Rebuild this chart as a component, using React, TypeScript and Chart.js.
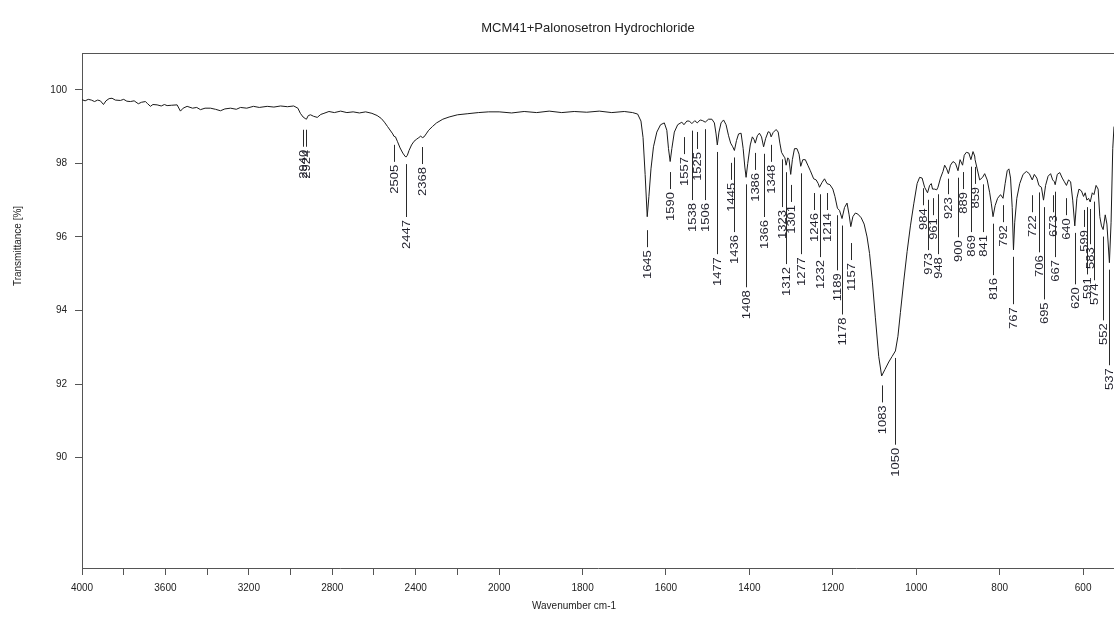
import { useEffect, useRef } from 'react';
import { Chart, LinearScale, registerables } from 'chart.js';

// ---------------- data ----------------
const chartTitle = 'MCM41+Palonosetron Hydrochloride';
const xAxisTitle = 'Wavenumber cm-1';
const yAxisTitle = 'Transmittance [%]';

const wavenumbers = [
  4000, 3985, 3970, 3955, 3940, 3925, 3912, 3897, 3885, 3870, 3856, 3840, 3816, 3800, 3785, 3768, 3750, 3730, 3715, 3696,
  3685, 3672, 3660, 3640, 3620, 3605, 3592, 3570, 3544, 3528, 3515, 3496, 3470, 3450, 3432, 3410, 3384, 3360, 3336, 3315,
  3288, 3260, 3240, 3210, 3178, 3150, 3112, 3080, 3048, 3015, 2985, 2965, 2953, 2940, 2930, 2924, 2915, 2904, 2890, 2872,
  2855, 2840, 2816, 2790, 2760, 2730, 2700, 2670, 2640, 2610, 2585, 2565, 2550, 2535, 2520, 2510, 2505, 2497, 2488, 2475,
  2462, 2452, 2447, 2440, 2432, 2420, 2408, 2395, 2385, 2376, 2368, 2360, 2350, 2338, 2320, 2300, 2270, 2240, 2200, 2150,
  2100, 2050, 2000, 1970, 1940, 1910, 1880, 1850, 1820, 1790, 1760, 1730, 1700, 1680, 1668, 1660, 1655, 1650, 1645, 1641,
  1636, 1630, 1622, 1613, 1604, 1598, 1594, 1590, 1586, 1580, 1572, 1562, 1557, 1550, 1544, 1538, 1531, 1525, 1518, 1512,
  1506, 1498, 1490, 1484, 1480, 1477, 1473, 1468, 1462, 1456, 1450, 1445, 1440, 1436, 1431, 1426, 1420, 1415, 1411, 1408,
  1404, 1398, 1393, 1389, 1386, 1381, 1376, 1371, 1366, 1361, 1355, 1351, 1348, 1343, 1336, 1331, 1327, 1323, 1318, 1315,
  1312, 1308, 1305, 1301, 1297, 1292, 1286, 1281, 1277, 1272, 1266, 1260, 1254, 1246, 1240, 1235, 1232, 1226, 1220, 1214,
  1207, 1200, 1195, 1189, 1184, 1178, 1172, 1166, 1161, 1157, 1152, 1146, 1140, 1132, 1125, 1118, 1112, 1105, 1098, 1090,
  1083, 1075, 1066, 1058, 1050, 1044, 1038, 1030, 1022, 1014, 1006, 998, 992, 986, 980, 973, 968, 964, 961, 956,
  951, 948, 942, 936, 932, 927, 923, 918, 912, 906, 900, 895, 889, 885, 880, 874, 869, 864, 860, 859,
  854, 848, 841, 836, 830, 824, 820, 816, 811, 805, 798, 792, 787, 782, 778, 774, 770, 767, 764, 759,
  752, 744, 736, 729, 722, 717, 711, 706, 700, 695, 690, 684, 678, 673, 669, 667, 662, 656, 650, 645,
  640, 635, 630, 625, 620, 615, 610, 604, 599, 595, 591, 587, 583, 578, 574, 569, 564, 560, 556, 552,
  547, 543, 537, 533, 529, 526,
];

const transmittance = [
  99.73, 99.7, 99.74, 99.72, 99.68, 99.72, 99.7, 99.6, 99.7, 99.76, 99.77, 99.72, 99.71, 99.74, 99.69, 99.68, 99.7, 99.62, 99.66, 99.68,
  99.62, 99.55, 99.6, 99.59, 99.56, 99.6, 99.57, 99.58, 99.59, 99.42, 99.5, 99.55, 99.5, 99.52, 99.46, 99.5, 99.5, 99.47, 99.43, 99.48,
  99.5, 99.47, 99.52, 99.5, 99.55, 99.52, 99.55, 99.53, 99.56, 99.54, 99.56, 99.5, 99.36, 99.26, 99.22, 99.2, 99.3, 99.32, 99.28, 99.25,
  99.33, 99.36, 99.41, 99.38, 99.42, 99.38, 99.4, 99.37, 99.4, 99.36, 99.3, 99.22, 99.12, 99.0, 98.88, 98.8, 98.74, 98.72, 98.6, 98.42,
  98.28, 98.2, 98.17, 98.22, 98.35, 98.5, 98.6, 98.66, 98.7, 98.74, 98.7, 98.72, 98.8, 98.9, 99.0, 99.1, 99.2, 99.26, 99.32, 99.35,
  99.38, 99.4, 99.4, 99.37, 99.41, 99.38, 99.42, 99.38, 99.41, 99.39, 99.42, 99.38, 99.41, 99.38, 99.34, 99.15, 98.7, 97.7, 96.55, 97.1,
  97.85, 98.45, 98.85, 99.05, 99.1, 98.9, 98.4, 98.05, 98.4, 98.85, 99.05, 99.12, 99.05, 99.15, 99.15, 99.08, 99.16, 99.1, 99.18, 99.16,
  99.12, 99.2, 99.2, 99.1, 98.8, 98.5, 98.85, 99.1, 99.18, 99.05, 98.75, 98.55, 98.45, 98.35, 98.62, 98.8, 98.82, 98.4, 97.9, 97.62,
  98.0, 98.5, 98.72, 98.65, 98.55, 98.75, 98.82, 98.72, 98.45, 98.68, 98.86, 98.84, 98.72, 98.84, 98.92, 98.85, 98.55, 98.3, 98.2, 98.15,
  97.95, 98.15, 98.1, 97.7, 98.1, 98.4, 98.4, 98.25, 97.92, 98.1, 98.1, 97.95, 97.8, 97.58, 97.55, 97.45, 97.35, 97.48, 97.58, 97.45,
  97.42, 97.3, 97.1, 96.78, 96.72, 96.5, 96.8, 96.92, 96.6, 96.28, 96.55, 96.65, 96.62, 96.52, 96.35, 96.0, 95.55, 94.75, 93.8, 92.75,
  92.22, 92.4, 92.6, 92.75, 92.9, 93.3, 93.95, 94.8, 95.6, 96.3, 96.9, 97.45, 97.62, 97.6, 97.35, 97.2, 97.4, 97.45, 97.3, 97.3,
  97.28, 97.35, 97.6, 97.78, 97.95, 97.85, 97.72, 97.95, 98.05, 98.0, 97.8, 98.1, 97.95, 98.22, 98.3, 98.28, 98.1, 98.32, 98.2, 98.1,
  97.85, 97.55, 97.62, 97.72, 97.55, 97.2, 96.9, 96.55, 96.85, 97.05, 97.15, 97.05, 97.45, 97.8, 97.85, 97.6, 96.8, 95.65, 96.4, 97.05,
  97.45, 97.7, 97.78, 97.72, 97.55, 97.7, 97.6, 97.4, 97.35, 97.0, 97.4, 97.65, 97.72, 97.55, 97.5, 97.42, 97.7, 97.75, 97.6, 97.5,
  97.4, 97.55, 97.5, 97.0, 96.3, 97.05, 97.3, 97.25, 97.1, 97.2, 97.0, 97.05, 96.95, 97.2, 97.15, 97.4, 97.3, 96.55, 96.3, 96.2,
  96.6, 96.35, 95.3, 96.4, 98.4, 99.0,
];

// peak annotations: wavenumber and the transmittance level where its label starts
const peakWavenumbers = [
  2940, 2924, 2505, 2447, 2368, 1645, 1590, 1557, 1538, 1525, 1506, 1477, 1445, 1436, 1408, 1386, 1366, 1348, 1323, 1312,
  1301, 1277, 1246, 1232, 1214, 1189, 1178, 1157, 1083, 1050, 984, 973, 961, 948, 923, 900, 889, 869, 859, 841,
  816, 792, 767, 722, 706, 695, 673, 667, 640, 620, 599, 591, 583, 574, 552, 537,
];
const peakLabelLevels = [
  98.37, 98.37, 97.96, 96.46, 97.9, 95.64, 97.22, 98.17, 96.92, 98.31, 96.92, 95.45, 97.47, 96.05, 94.55, 97.74, 96.46, 97.96, 96.73, 95.18,
  96.87, 95.45, 96.65, 95.37, 96.65, 95.01, 93.81, 95.29, 91.42, 90.27, 96.78, 95.56, 96.51, 95.45, 97.08, 95.91, 97.22, 96.05, 97.36, 96.05,
  94.88, 96.32, 94.09, 96.59, 95.5, 94.22, 96.59, 95.37, 96.51, 94.63, 96.19, 94.9, 95.72, 94.74, 93.65, 92.43,
];

const xTickValues = [4000, 3800, 3600, 3400, 3200, 3000, 2800, 2600, 2400, 2200, 2000, 1800, 1600, 1400, 1200, 1000, 800, 600];
const xTickLabelled = [4000, 3600, 3200, 2800, 2400, 2000, 1800, 1600, 1400, 1200, 1000, 800, 600];
const yTickValues = [90, 92, 94, 96, 98, 100];

const X_MAX = 4000;
const X_MIN = 526;
const Y_MIN = 87;
const Y_MAX = 101;

// Above the break the axis is compressed by half (as in the instrument's plot)
const SCALE_BREAK = 2000;
const HIGH_RANGE_FACTOR = 0.5;

const FONT = '"Liberation Sans", Arial, Helvetica, sans-serif';

function warp(v: number) {
  return v > SCALE_BREAK ? SCALE_BREAK + (v - SCALE_BREAK) * HIGH_RANGE_FACTOR : v;
}
function unwarp(u: number) {
  return u > SCALE_BREAK ? SCALE_BREAK + (u - SCALE_BREAK) / HIGH_RANGE_FACTOR : u;
}

class BrokenLinearScale extends LinearScale {
  static id = 'brokenLinear';
  static defaults = LinearScale.defaults;
  getPixelForValue(value: any) {
    if (value === null || value === undefined || Number.isNaN(+value)) return NaN;
    const a = warp(this.min);
    const b = warp(this.max);
    return this.getPixelForDecimal((warp(+value) - a) / (b - a));
  }
  getValueForPixel(pixel: number) {
    const a = warp(this.min);
    const b = warp(this.max);
    return unwarp(a + this.getDecimalForPixel(pixel) * (b - a));
  }
}

Chart.register(...registerables, BrokenLinearScale);

function transmittanceAt(w: number) {
  for (let i = 0; i < wavenumbers.length - 1; i++) {
    const w0 = wavenumbers[i];
    const w1 = wavenumbers[i + 1];
    if (w <= w0 && w >= w1) {
      const t = w0 === w1 ? 0 : (w0 - w) / (w0 - w1);
      return transmittance[i] + t * (transmittance[i + 1] - transmittance[i]);
    }
  }
  return transmittance[transmittance.length - 1];
}

const framePlugin = {
  id: 'frameAndTitles',
  afterDraw(chart: any) {
    const { ctx, chartArea } = chart;
    ctx.save();
    ctx.strokeStyle = '#555';
    ctx.lineWidth = 1;
    ctx.beginPath();
    ctx.moveTo(chartArea.left, chartArea.top + 0.5);
    ctx.lineTo(chartArea.right, chartArea.top + 0.5);
    ctx.stroke();

    ctx.fillStyle = '#222';
    ctx.textAlign = 'center';
    ctx.textBaseline = 'middle';
    ctx.font = `13px ${FONT}`;
    ctx.fillText(chartTitle, 588, 28);
    ctx.font = `10px ${FONT}`;
    ctx.fillText(xAxisTitle, 574, 606);

    ctx.translate(18, 246);
    ctx.rotate(-Math.PI / 2);
    ctx.fillText(yAxisTitle, 0, 0);
    ctx.restore();
  },
};

const peakLabelPlugin = {
  id: 'peakLabels',
  afterDatasetsDraw(chart: any) {
    const { ctx, scales } = chart;
    const xs = scales.x;
    const ys = scales.y;
    ctx.save();
    ctx.strokeStyle = '#2a2a2a';
    ctx.lineWidth = 1;
    ctx.fillStyle = '#1e1e2a';
    ctx.font = `13px ${FONT}`;
    peakWavenumbers.forEach((w, i) => {
      const x = Math.round(xs.getPixelForValue(w)) + 0.5;
      const curveY = ys.getPixelForValue(transmittanceAt(w));
      const textTop = ys.getPixelForValue(peakLabelLevels[i]);
      const gap = textTop - curveY;
      const lineTop = gap > 45 ? curveY + 7 : Math.max(curveY + 5, textTop - 20);
      const lineBottom = textTop - 3;
      if (lineBottom > lineTop) {
        ctx.beginPath();
        ctx.moveTo(x, lineTop);
        ctx.lineTo(x, lineBottom);
        ctx.stroke();
      }
      ctx.save();
      ctx.translate(x, textTop);
      ctx.rotate(-Math.PI / 2);
      ctx.scale(1, 0.85);
      ctx.textAlign = 'right';
      ctx.textBaseline = 'middle';
      ctx.fillText(String(w), 0, 0);
      ctx.restore();
    });
    ctx.restore();
  },
};

export default function App() {
  const canvasRef = useRef<HTMLCanvasElement | null>(null);

  useEffect(() => {
    const canvas = canvasRef.current;
    if (!canvas) return;
    const chart = new Chart(canvas, {
      type: 'line',
      data: {
        datasets: [
          {
            label: chartTitle,
            data: wavenumbers.map((w, i) => ({ x: w, y: transmittance[i] })),
            borderColor: '#1a1a1a',
            borderWidth: 1,
            pointRadius: 0,
            tension: 0,
            fill: false,
          },
        ],
      },
      options: {
        animation: false,
        responsive: false,
        devicePixelRatio: 1,
        layout: { padding: { top: 53, right: 0, bottom: 0, left: 0 } },
        plugins: {
          legend: { display: false },
          tooltip: { enabled: false },
          title: { display: false },
        },
        scales: {
          x: {
            type: 'brokenLinear' as any,
            reverse: true,
            min: X_MIN,
            max: X_MAX,
            afterBuildTicks: (s: any) => {
              s.ticks = xTickValues.map((v) => ({ value: v }));
            },
            afterFit: (s: any) => {
              s.height = 60;
            },
            grid: {
              display: true,
              drawOnChartArea: false,
              drawTicks: true,
              tickLength: 7,
              color: '#555',
              tickColor: '#555',
            },
            border: { display: true, color: '#555', width: 1 },
            ticks: {
              autoSkip: false,
              maxRotation: 0,
              minRotation: 0,
              padding: 7,
              color: '#222',
              font: { family: FONT, size: 10 },
              callback: (v: any) => (xTickLabelled.includes(Number(v)) ? String(v) : ''),
            },
          },
          y: {
            type: 'linear',
            min: Y_MIN,
            max: Y_MAX,
            afterBuildTicks: (s: any) => {
              s.ticks = yTickValues.map((v) => ({ value: v }));
            },
            afterFit: (s: any) => {
              s.width = 82;
            },
            grid: {
              display: true,
              drawOnChartArea: false,
              drawTicks: true,
              tickLength: 7,
              color: '#555',
              tickColor: '#555',
            },
            border: { display: true, color: '#555', width: 1 },
            ticks: {
              padding: 8,
              color: '#222',
              font: { family: FONT, size: 10 },
              callback: (v: any) => String(v),
            },
          },
        },
      },
      plugins: [peakLabelPlugin, framePlugin],
    });
    return () => chart.destroy();
  }, []);

  return (
    <div style={{ position: 'absolute', left: 0, top: 0, width: 1114, height: 628, background: '#fff' }}>
      <canvas ref={canvasRef} width={1114} height={628} style={{ width: 1114, height: 628, display: 'block' }} />
    </div>
  );
}
